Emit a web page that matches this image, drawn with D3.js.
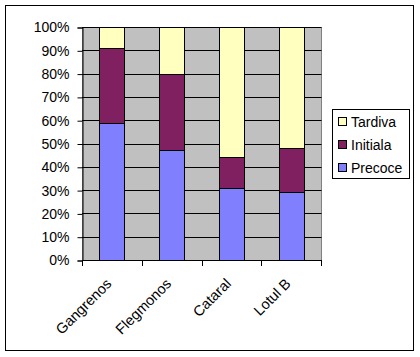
<!DOCTYPE html>
<html><head><meta charset="utf-8">
<script src="https://cdn.jsdelivr.net/npm/d3@7"></script>
<style>
html,body{margin:0;padding:0;background:#fff;}
svg{display:block;font-family:"Liberation Sans",Arial,sans-serif;}
</style></head>
<body>
<svg id="c" width="420" height="357"></svg>
<script>
const categories = ["Gangrenos", "Flegmonos", "Cataral", "Lotul B"];
const seriesNames = ["Precoce", "Initiala", "Tardiva"];
const precoce = [58.8, 47.2, 30.9, 29.2];
const initiala = [32.0, 32.8, 13.3, 18.9];
const tardiva = [9.2, 20.0, 55.8, 51.9];
const yTicks = [0, 0.1, 0.2, 0.3, 0.4, 0.5, 0.6, 0.7, 0.8, 0.9, 1.0];
const colors = {Precoce: "#8080FF", Initiala: "#802060", Tardiva: "#FFFFC0"};

const rows = categories.map((c, i) => {
  const tot = precoce[i] + initiala[i] + tardiva[i];
  return {cat: c, Precoce: precoce[i] / tot, Initiala: initiala[i] / tot, Tardiva: tardiva[i] / tot};
});

const svg = d3.select("#c");
// outer frame
svg.append("rect").attr("x", 5.5).attr("y", 5.5).attr("width", 408).attr("height", 345)
  .attr("fill", "#fff").attr("stroke", "#000").attr("stroke-width", 1);

const L = 82, R = 321, T = 27, B = 260;
const x = d3.scaleBand().domain(categories).range([L, R]).paddingInner(0.58).paddingOuter(0.29);
const xb = d3.scaleBand().domain(categories).range([L, R]);
const y = d3.scaleLinear().domain([0, 1]).range([B, T]);

// plot area
svg.append("rect").attr("x", L + 0.5).attr("y", T + 0.5).attr("width", R - L).attr("height", B - T)
  .attr("fill", "#C0C0C0").attr("stroke", "#808080");

// gridlines
svg.append("g").selectAll("line").data(yTicks).join("line")
  .attr("x1", L).attr("x2", R + 0.5)
  .attr("y1", d => Math.round(y(d)) + 0.5).attr("y2", d => Math.round(y(d)) + 0.5)
  .attr("stroke", "#000");

// bars
const stack = d3.stack().keys(seriesNames)(rows);
svg.append("g").selectAll("g").data(stack).join("g")
  .attr("fill", d => colors[d.key])
  .selectAll("rect").data(d => d).join("rect")
  .attr("x", d => Math.round(x(d.data.cat)) + 0.5)
  .attr("width", Math.round(x.bandwidth()))
  .attr("y", d => Math.round(y(d[1])) + 0.5)
  .attr("height", d => Math.round(y(d[0])) - Math.round(y(d[1])))
  .attr("stroke", "#000");

// y axis
const yAxis = d3.axisLeft(y).tickValues(yTicks).tickSize(5).tickFormat(d3.format(".0%"));
const gy = svg.append("g").attr("transform", `translate(${L + 0.5},0.5)`).call(yAxis);
gy.select(".domain").attr("stroke", "#000");
gy.selectAll(".tick line").attr("stroke", "#000");
gy.selectAll("text").attr("font-size", 14).attr("fill", "#000").attr("x", -13)
  .attr("font-family", '"Liberation Sans",Arial,sans-serif');

// x axis
const boundaries = [0, 1, 2, 3, 4];
const gx = svg.append("g");
gx.append("line").attr("x1", L).attr("x2", R + 1).attr("y1", B + 0.5).attr("y2", B + 0.5).attr("stroke", "#000");
gx.selectAll("line.t").data(boundaries).join("line").attr("class", "t")
  .attr("x1", d => Math.round(L + d * xb.step()) + 0.5).attr("x2", d => Math.round(L + d * xb.step()) + 0.5)
  .attr("y1", B).attr("y2", B + 6).attr("stroke", "#000");
gx.selectAll("text").data(categories).join("text")
  .attr("transform", d => `translate(${xb(d) + xb.bandwidth() / 2 - 3},${B + 21}) rotate(-45)`)
  .attr("text-anchor", "end").attr("dy", "0.35em")
  .attr("font-size", 14.5).attr("fill", "#000").text(d => d);

// legend
const lg = svg.append("g");
lg.append("rect").attr("x", 332.5).attr("y", 109.5).attr("width", 77).attr("height", 69)
  .attr("fill", "#fff").attr("stroke", "#000");
const legItems = ["Tardiva", "Initiala", "Precoce"];
const ly = d3.scalePoint().domain(legItems).range([122, 168]);
legItems.forEach(k => {
  lg.append("rect").attr("x", 338.5).attr("y", Math.round(ly(k)) - 4.5).attr("width", 8).attr("height", 8)
    .attr("fill", colors[k]).attr("stroke", "#000");
  lg.append("text").attr("x", 351).attr("y", ly(k)).attr("dy", "0.36em")
    .attr("font-size", 14).attr("fill", "#000").text(k);
});
</script>
</body></html>
